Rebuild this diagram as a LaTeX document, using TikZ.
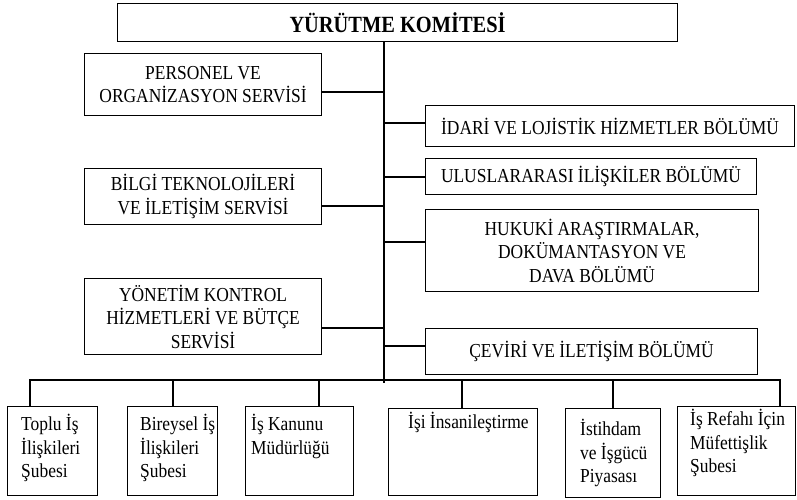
\documentclass[tikz,border=0pt]{standalone}
\usepackage{fontspec}
\setmainfont{Liberation Serif}
\newfontfamily\orgserif{Liberation Serif}[FakeStretch=0.88]
\newcommand{\bodyfont}{\orgserif\fontsize{19.8}{23.5}\selectfont}
\newcommand{\titlefont}{\orgserif\fontsize{23.2}{26}\selectfont\bfseries}
\begin{document}
\begin{tikzpicture}[x=1pt,y=-1pt,
  box/.style={draw, line width=1.1pt, inner sep=0pt, anchor=north west, align=center, font=\bodyfont},
  lbl/.style={inner sep=0pt, anchor=north west, align=left, font=\bodyfont},
  link/.style={line width=1.1pt}]
\useasboundingbox (0,0) rectangle (797,499);

% head of the organisation
\node[box, minimum width=560pt, minimum height=38pt, font=\titlefont] (top) at (117,3) {YÜRÜTME KOMİTESİ};

% services on the left
\node[box, minimum width=237pt, minimum height=62pt] (pers) at (84,53) {PERSONEL VE\\ORGANİZASYON SERVİSİ};
\node[box, minimum width=237pt, minimum height=56pt] (bilgi) at (84,168) {BİLGİ TEKNOLOJİLERİ\\VE İLETİŞİM SERVİSİ};
\node[box, minimum width=237pt, minimum height=76pt] (yonet) at (84,278) {YÖNETİM KONTROL\\HİZMETLERİ VE BÜTÇE\\SERVİSİ};

% departments on the right
\node[box, minimum width=369pt, minimum height=41pt] (idari) at (425,105) {İDARİ VE LOJİSTİK HİZMETLER BÖLÜMÜ};
\node[box, minimum width=331pt, minimum height=36pt] (ulus) at (425,158) {ULUSLARARASI İLİŞKİLER BÖLÜMÜ};
\node[box, minimum width=333pt, minimum height=82pt] (hukuk) at (425,209) {HUKUKİ ARAŞTIRMALAR,\\DOKÜMANTASYON VE\\DAVA BÖLÜMÜ};
\node[box, minimum width=332pt, minimum height=46pt] (ceviri) at (425,328) {ÇEVİRİ VE İLETİŞİM BÖLÜMÜ};

% branches in the bottom row
\node[box, minimum width=90pt, minimum height=89pt] (toplu) at (7,406) {};
\node[box, minimum width=90pt, minimum height=89pt] (birey) at (127,406) {};
\node[box, minimum width=108pt, minimum height=89pt] (kanun) at (245,406) {};
\node[box, minimum width=149pt, minimum height=87pt] (insan) at (388,408) {};
\node[box, minimum width=95pt, minimum height=89pt] (istih) at (565,408) {};
\node[box, minimum width=118pt, minimum height=89pt] (refah) at (677,406) {};

\node[lbl] (toplut) at (21,414) {\strut Toplu İş\\İlişkileri\\Şubesi};
\node[lbl] (bireyt) at (140,414) {\strut Bireysel İş\\İlişkileri\\Şubesi};
\node[lbl] (kanunt) at (251,414) {\strut İş Kanunu\\Müdürlüğü};
\node[lbl] (insant) at (408,412) {\strut İşi İnsanileştirme};
\node[lbl] (istiht) at (580,419) {\strut İstihdam\\ve İşgücü\\Piyasası};
\node[lbl] (refaht) at (690,409) {\strut İş Refahı İçin\\Müfettişlik\\Şubesi};

% main vertical line
\coordinate (tt) at (384,41);
\coordinate (tb) at (384,383);
\draw[link] (top.south -| tt) -- (tb);

% levels of the side connectors
\coordinate (yP) at (0,92);
\coordinate (yB) at (0,206);
\coordinate (yY) at (0,328);
\coordinate (yI) at (0,123);
\coordinate (yU) at (0,177);
\coordinate (yH) at (0,242);
\coordinate (yC) at (0,346);

\draw[link] (pers.east |- yP) -- (tt |- yP);
\draw[link] (bilgi.east |- yB) -- (tt |- yB);
\draw[link] (yonet.east |- yY) -- (tt |- yY);
\draw[link] (idari.west |- yI) -- (tt |- yI);
\draw[link] (ulus.west |- yU) -- (tt |- yU);
\draw[link] (hukuk.west |- yH) -- (tt |- yH);
\draw[link] (ceviri.west |- yC) -- (tt |- yC);

% horizontal bus and drops to the bottom row
\coordinate (bus) at (0,380);
\coordinate (d1) at (30,0);
\coordinate (d2) at (173,0);
\coordinate (d3) at (319,0);
\coordinate (d4) at (462,0);
\coordinate (d5) at (613,0);
\coordinate (d6) at (780,0);

\draw[link] (d1 |- toplu.north) -- (d1 |- bus) -- (d6 |- bus) -- (d6 |- refah.north);
\draw[link] (d2 |- bus) -- (d2 |- birey.north);
\draw[link] (d3 |- bus) -- (d3 |- kanun.north);
\draw[link] (d4 |- bus) -- (d4 |- insan.north);
\draw[link] (d5 |- bus) -- (d5 |- istih.north);
\end{tikzpicture}
\end{document}
